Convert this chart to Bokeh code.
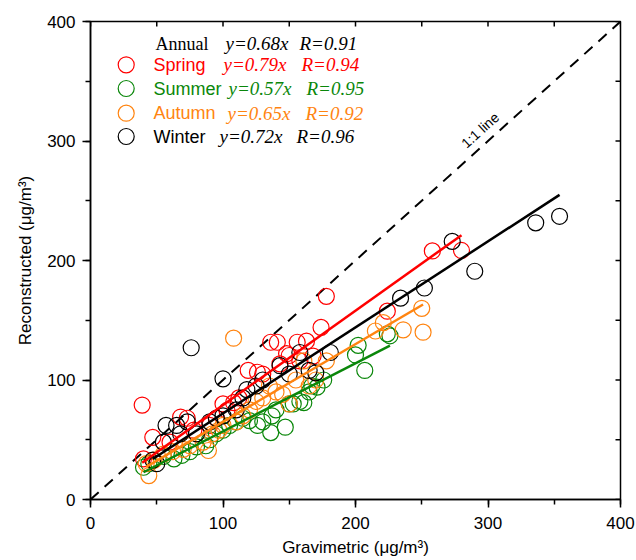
import numpy as np
from bokeh.plotting import figure
from bokeh.models import Label, Range1d, SingleIntervalTicker
from bokeh.embed import file_html
from bokeh.resources import INLINE

# ---------------- data ----------------
seasons = ["Spring", "Summer", "Autumn", "Winter"]
colors = ["#ff0000", "#0a870a", "#ff8410", "#000000"]
slopes = [0.79, 0.57, 0.65, 0.72]
r_values = [0.94, 0.95, 0.92, 0.96]
annual_slope = 0.68
annual_r = 0.91

spring_x = [39, 40, 47, 60, 68, 73, 78, 90, 95, 100, 103, 108, 112, 119, 126,
            130, 136, 141, 143, 148, 150, 156, 158, 163, 168, 174, 178, 224, 258, 280]
spring_y = [79, 34, 52, 48, 69, 68, 58, 62, 68, 80, 74.5, 81, 85, 108, 106.5,
            105, 131.6, 131.6, 113.5, 122, 120.5, 131.6, 116, 132.5, 120, 144, 170, 157.6, 208, 208.4]

summer_x = [40, 44, 55, 63, 69, 75, 80, 87, 90, 95, 100, 105, 110, 115, 120, 126, 130,
            136, 137, 140, 147, 150, 153, 158, 161, 165, 167, 171, 176, 200, 202, 207, 224, 226]
summer_y = [27, 30, 36, 34, 37, 40, 44, 45, 50, 55, 58, 62, 65, 68, 66, 62, 65,
            56, 70, 75, 60.5, 80, 80, 82, 81, 90, 95, 94, 100, 121, 129, 108, 138.6, 137]

autumn_x = [44, 42, 48, 55, 62, 70, 75, 85, 89, 92, 97, 100, 108, 110, 115, 120, 125,
            130, 135, 140, 145, 150, 155, 161, 165, 170, 178, 215, 221, 236, 250, 251]
autumn_y = [20, 30, 33, 38, 40, 42, 45, 48, 41, 55, 58, 62, 135, 65, 70, 75, 82,
            85, 95, 90, 88, 80, 100, 116, 95, 100, 116, 141, 148, 142, 160, 140]

winter_x = [47, 50, 55, 57, 65, 73, 76, 68, 80, 90, 95, 100, 100, 110, 115, 118, 125,
            130, 143, 150, 158, 165, 170, 181, 234, 252, 273, 290, 336, 354]
winter_y = [33, 30, 48, 62, 62, 65, 127, 55, 55, 65, 68, 101, 70, 75, 85, 92, 95,
            100, 112, 105, 123, 108, 106, 123, 168.5, 177, 216, 191, 231.5, 237]

xs = [spring_x, summer_x, autumn_x, winter_x]
ys = [spring_y, summer_y, autumn_y, winter_y]

axis_min, axis_max = 0, 400
x_title = "Gravimetric (\u03bcg/m\u00b3)"
y_title = "Reconstructed (\u03bcg/m\u00b3)"

# ---------------- figure ----------------
FRAME_W, FRAME_H = 530, 478
p = figure(width=636, height=560, x_range=Range1d(axis_min, axis_max),
           y_range=Range1d(axis_min, axis_max), output_backend="svg",
           toolbar_location=None, min_border_left=90, min_border_right=16,
           min_border_top=21, min_border_bottom=61)
p.grid.visible = False
p.outline_line_color = "black"
p.outline_line_width = 1.5
p.background_fill_color = "white"
p.border_fill_color = "white"

SANS = "Liberation Sans"
SERIF = "Liberation Serif"

for ax in (p.xaxis[0], p.yaxis[0]):
    ax.ticker = SingleIntervalTicker(interval=100, num_minor_ticks=2)
    ax.axis_line_width = 1.5
    ax.major_tick_line_width = 1.5
    ax.minor_tick_line_width = 1.5
    ax.major_tick_out = 8
    ax.major_tick_in = 0
    ax.minor_tick_out = 5
    ax.minor_tick_in = 0
    ax.major_label_text_font = SANS
    ax.major_label_text_font_size = "17px"
    ax.major_label_text_color = "black"
    ax.axis_label_text_font = SANS
    ax.axis_label_text_font_size = "17px"
    ax.axis_label_text_font_style = "normal"
    ax.axis_label_text_color = "black"

p.xaxis[0].axis_label = x_title
p.yaxis[0].axis_label = y_title
p.xaxis[0].major_label_standoff = 9
p.xaxis[0].axis_label_standoff = 6
p.yaxis[0].major_label_standoff = 7
p.yaxis[0].axis_label_standoff = 9

# inward ticks on top and right frame edges
tick_pos = np.arange(axis_min, axis_max + 1, 50)
span = axis_max - axis_min
tin_y = 5 * span / FRAME_H
tin_x = 5 * span / FRAME_W
p.segment(x0=tick_pos, y0=np.full(len(tick_pos), axis_max), x1=tick_pos,
          y1=np.full(len(tick_pos), axis_max - tin_y), line_color="black", line_width=1.5)
p.segment(x0=np.full(len(tick_pos), axis_max), y0=tick_pos,
          x1=np.full(len(tick_pos), axis_max - tin_x), y1=tick_pos,
          line_color="black", line_width=1.5)

# 1:1 line
p.line([axis_min, axis_max], [axis_min, axis_max], line_color="black",
       line_width=2, line_dash="11 8")
p.add_layout(Label(x=294, y=309, text="1:1 line", angle=np.arctan(FRAME_H / FRAME_W),
                   text_font=SANS, text_font_size="14px", text_color="black",
                   text_align="center", text_baseline="middle"))

# scatter + fits
for sx, sy, c in zip(xs, ys, colors):
    p.scatter(sx, sy, marker="circle", size=16, fill_color=None,
              line_color=c, line_width=1.2)
for sx, c, k in zip(xs, colors, slopes):
    lx = np.array([min(sx), max(sx)], dtype=float)
    p.line(lx, k * lx, line_color=c, line_width=2.5)

# ---------------- legend ----------------
def px2x(px):
    return (px - 90) / FRAME_W * span

def py2y(py):
    return (499 - py) / FRAME_H * span

row_py = [64.3, 88.0, 112.7, 136.0]
eq_px = [223, 228, 227, 219]
r_px = [301, 306, 305, 296]

p.add_layout(Label(x=px2x(155), y=py2y(43.3), text="Annual", text_font=SERIF,
                   text_font_size="18px", text_color="black", text_baseline="middle"))
p.add_layout(Label(x=px2x(225), y=py2y(43.3), text=f"y={annual_slope:.2f}x",
                   text_font=SERIF, text_font_style="italic", text_font_size="19px",
                   text_color="black", text_baseline="middle"))
p.add_layout(Label(x=px2x(299), y=py2y(43.3), text=f"R={annual_r:.2f}",
                   text_font=SERIF, text_font_style="italic", text_font_size="19px",
                   text_color="black", text_baseline="middle"))

p.scatter([px2x(125.7)] * 4, [py2y(v) for v in row_py], marker="circle", size=16,
          fill_color=None, line_color=colors, line_width=1.2)

for name, c, k, r, ry, ex, rx in zip(seasons, colors, slopes, r_values, row_py, eq_px, r_px):
    yv = py2y(ry)
    p.add_layout(Label(x=px2x(153), y=yv, text=name, text_font=SANS,
                       text_font_size="18px", text_color=c, text_baseline="middle"))
    p.add_layout(Label(x=px2x(ex), y=yv, text=f"y={k:.2f}x", text_font=SERIF,
                       text_font_style="italic", text_font_size="19px",
                       text_color=c, text_baseline="middle"))
    p.add_layout(Label(x=px2x(rx), y=yv, text=f"R={r:.2f}", text_font=SERIF,
                       text_font_style="italic", text_font_size="19px",
                       text_color=c, text_baseline="middle"))

open("out.html", "w").write(file_html(p, INLINE))
